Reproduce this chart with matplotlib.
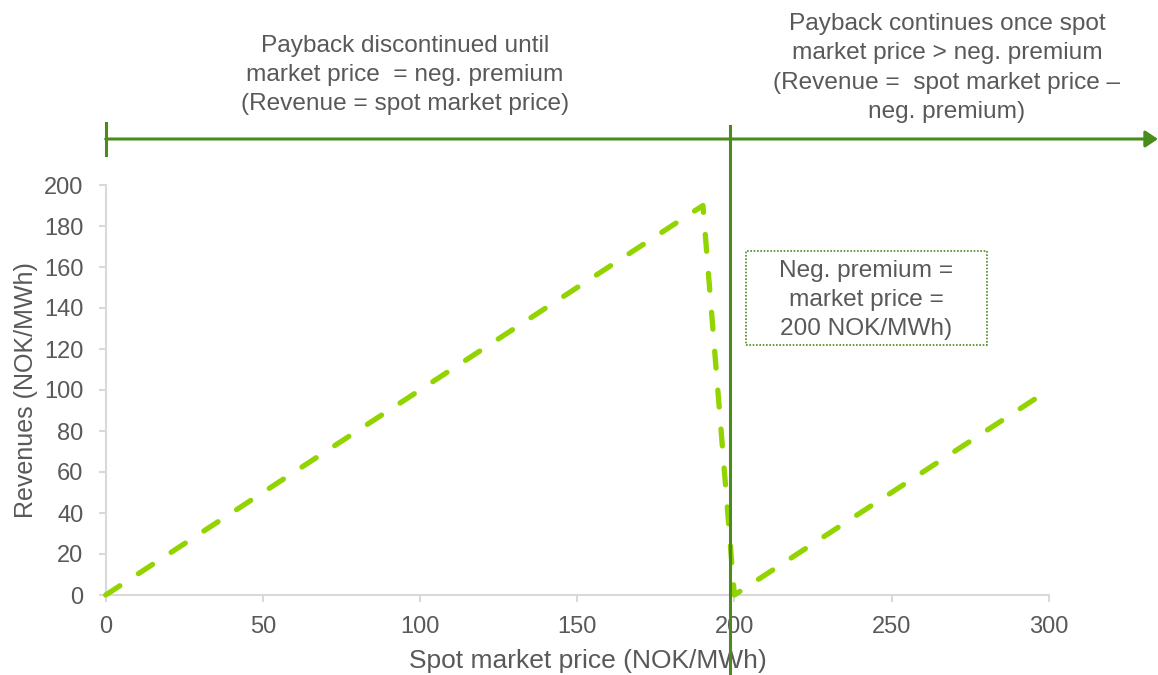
import matplotlib
matplotlib.use("Agg")
import matplotlib.pyplot as plt
from matplotlib.patches import FancyArrowPatch, Rectangle
from matplotlib.lines import Line2D

plt.rcParams['font.family'] = ['Liberation Sans', 'DejaVu Sans']

# Data
spot_price = [0, 190, 200, 300]
revenues = [0, 190, 0, 100]
x_ticks = [0, 50, 100, 150, 200, 250, 300]
y_ticks = [0, 20, 40, 60, 80, 100, 120, 140, 160, 180, 200]
threshold = 198.5

text_left = "Payback discontinued until\nmarket price  = neg. premium\n(Revenue = spot market price)"
text_right = "Payback continues once spot\nmarket price > neg. premium\n(Revenue =  spot market price \u2013\nneg. premium)"
text_box = "Neg. premium =\nmarket price =\n200 NOK/MWh)"

W, H = 1158, 675
fig = plt.figure(figsize=(W / 100, H / 100), dpi=100)
ax = fig.add_axes([105.7 / W, 80 / H, (1048.7 - 105.7) / W, 410 / H])

dark_green = '#4A8C1C'
light_green = '#92D400'
gray_text = '#595959'
spine_col = '#D9D9D9'

ax.plot(spot_price, revenues, color=light_green, lw=3.8, dashes=(3.2, 4.2),
        dash_capstyle='round', solid_capstyle='round', clip_on=False, zorder=3)

ax.set_xlim(0, 300)
ax.set_ylim(0, 200)
ax.set_xticks(x_ticks)
ax.set_yticks(y_ticks)
for s in ['top', 'right']:
    ax.spines[s].set_visible(False)
for s in ['left', 'bottom']:
    ax.spines[s].set_color(spine_col)
    ax.spines[s].set_linewidth(1.5)
ax.tick_params(axis='both', direction='out', length=5, width=1.5, color=spine_col,
               labelcolor=gray_text, labelsize=17)
ax.tick_params(axis='y', pad=11)
ax.tick_params(axis='x', pad=10)
ax.set_xlabel("Spot market price (NOK/MWh)", fontsize=19, color=gray_text)
ax.xaxis.set_label_coords((588 - 105.7) / 943, -(661 - 595) / 410)
ax.xaxis.label.set_va('center')
ax.set_ylabel("Revenues (NOK/MWh)", fontsize=18, color=gray_text, labelpad=4)

# vertical threshold line
ax.axvline(threshold, ymin=(595 - 675) / 410, ymax=(595 - 126) / 410, color=dark_green,
           lw=2.2, clip_on=False, zorder=4)

# horizontal arrow on top
y_arrow = (675 - 139) / H
arr = FancyArrowPatch((105.7 / W, y_arrow), (1158 / W, y_arrow), transform=fig.transFigure,
                      arrowstyle='-|>,head_length=0.75,head_width=0.5', mutation_scale=10,
                      color=dark_green, lw=2.2, shrinkA=0, shrinkB=0)
fig.patches.append(arr)
fig.add_artist(Line2D([105.7 / W, 105.7 / W], [(675 - 123) / H, (675 - 155) / H],
                      transform=fig.transFigure, color=dark_green, lw=2.2))

# texts
fig.text(405 / W, (675 - 75) / H, text_left, ha='center', va='center', fontsize=17.6,
         color=gray_text, linespacing=1.4)
fig.text(947 / W, (675 - 68) / H, text_right, ha='center', va='center', fontsize=17.6,
         color=gray_text, linespacing=1.42)

# dotted box
fig.patches.append(Rectangle((746 / W, (675 - 345) / H), (987 - 746) / W, (345 - 251) / H,
                             transform=fig.transFigure, fill=False, edgecolor=dark_green,
                             lw=1.2, linestyle=(0, (1, 1))))
fig.text(866 / W, (675 - 300) / H, text_box, ha='center', va='center', fontsize=17.6,
         color=gray_text, linespacing=1.42)

fig.savefig("out.png", dpi=100)
